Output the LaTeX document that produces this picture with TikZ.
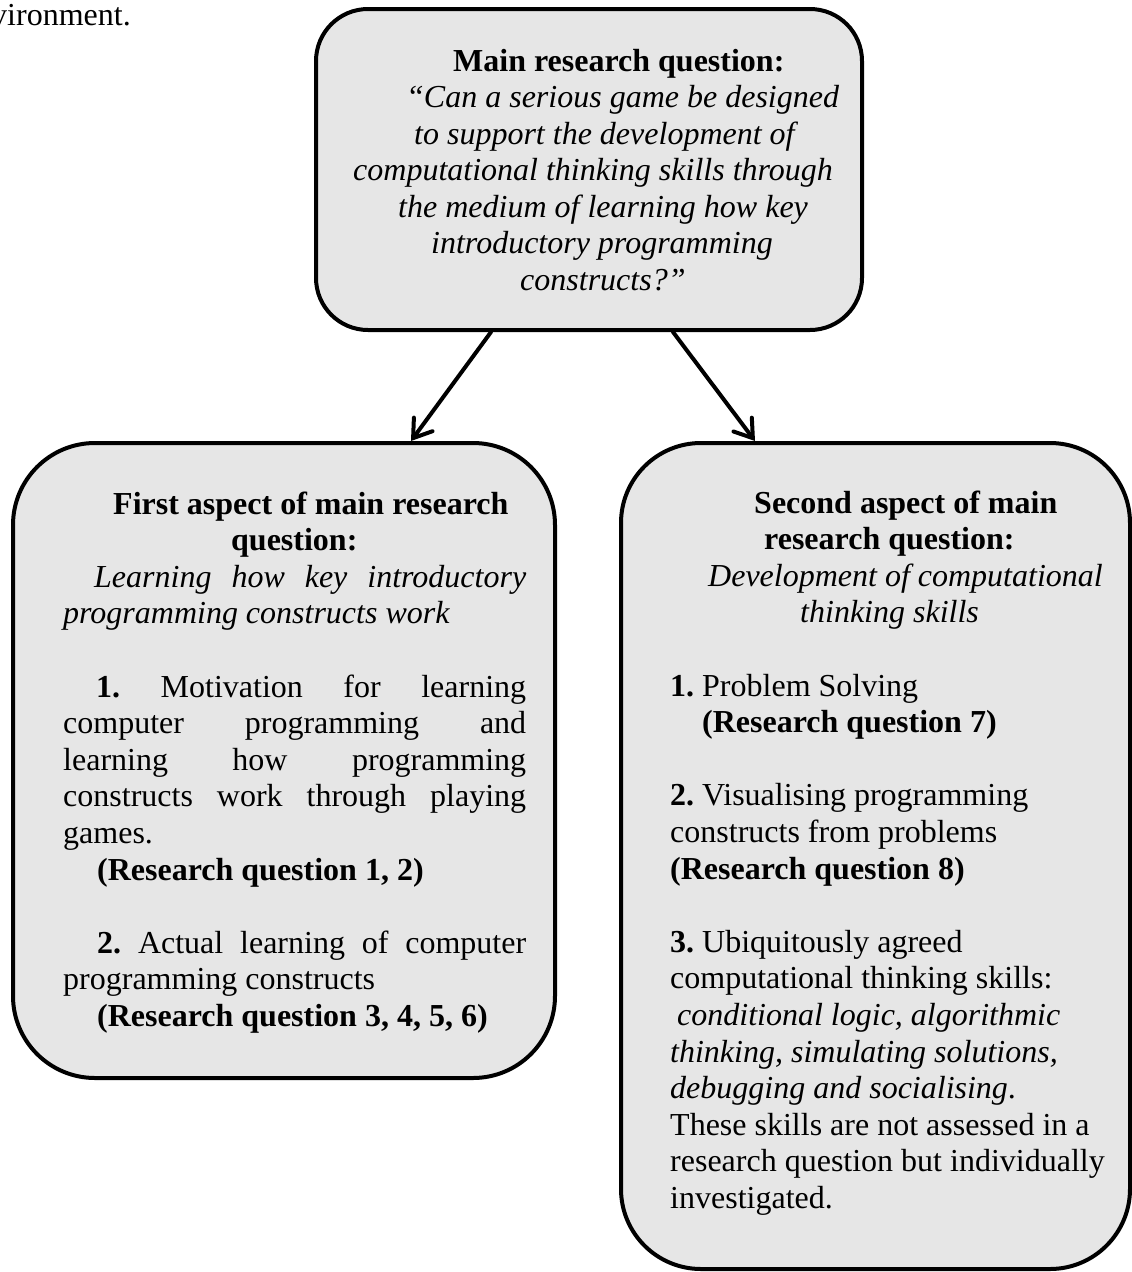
\documentclass[tikz,border=0pt]{standalone}
\usepackage{fontspec}
\setmainfont{Liberation Serif}
\usetikzlibrary{arrows.meta}
\definecolor{boxgray}{RGB}{230,230,230}
\newcommand{\fs}{\fontsize{32}{32}\selectfont\frenchspacing}
\begin{document}
\begin{tikzpicture}[x=1pt,y=-1pt,
  box/.style={draw=black, line width=4pt, fill=boxgray, rectangle, inner sep=0pt},
  arr/.style={line width=4pt, line cap=round, -{Straight Barb[length=17pt,width=23pt,line cap=round]}},
  tl/.style={anchor=base west, inner sep=0pt, font=\fs}]
\useasboundingbox (0,0) rectangle (1132,1272);
\node[tl] (env) at (-9,25) {vironment.};
% boxes
\node[box, rounded corners=52pt, minimum width=546pt, minimum height=321pt] (top) at (589,169.5) {};
\node[box, rounded corners=82pt, minimum width=542pt, minimum height=635pt] (left) at (284,760.5) {};
\node[box, rounded corners=80pt, minimum width=509pt, minimum height=826pt] (right) at (875.5,856) {};
% arrows
\draw[arr] ([xshift=177pt]top.south west) -- ([xshift=400pt]left.north west);
\draw[arr] ([xshift=359pt]top.south west) -- ([xshift=136pt]right.north west);
% top text
\node[tl] (m1) at (453,71) {\textbf{Main research question:}};
\node[tl] (m2) at (406,107.5) {\itshape “Can a serious game be designed};
\node[tl] (m3) at (414,144) {\itshape to support the development of};
\node[tl] (m4) at (353,180.5) {\itshape computational thinking skills through};
\node[tl] (m5) at (398,217) {\itshape the medium of learning how key};
\node[tl] (m6) at (431,253.5) {\itshape introductory programming};
\node[tl] (m7) at (520,290) {\itshape constructs?”};
% left text
\node[tl] (a1) at (113,514) {\textbf{First aspect of main research}};
\node[tl] (a2) at (231,550.6) {\textbf{question:}};
\node[tl] (a3) at (94,587.2) {\makebox[432pt][s]{\itshape Learning how key introductory}};
\node[tl] (a4) at (63,623.8) {\itshape programming constructs work};
\node[tl] (a5) at (96,697) {\makebox[430pt][s]{\textbf{1.} Motivation for learning}};
\node[tl] (a6) at (63,733.6) {\makebox[463pt][s]{computer programming and}};
\node[tl] (a7) at (63,770.2) {\makebox[463pt][s]{learning how programming}};
\node[tl] (a8) at (63,806.8) {\makebox[463pt][s]{constructs work through playing}};
\node[tl] (a9) at (63,843.4) {games.};
\node[tl] (a10) at (97,880) {\textbf{(Research question 1, 2)}};
\node[tl] (a11) at (97,953.2) {\makebox[429pt][s]{\textbf{2.} Actual learning of computer}};
\node[tl] (a12) at (63,989.8) {programming constructs};
\node[tl] (a13) at (97,1026.4) {\textbf{(Research question 3, 4, 5, 6)}};
% right text
\node[tl] (b1) at (754,513) {\textbf{Second aspect of main}};
\node[tl] (b2) at (764,549.6) {\textbf{research question:}};
\node[tl] (b3) at (708,586.2) {\itshape Development of computational};
\node[tl] (b4) at (800,622.8) {\itshape thinking skills};
\node[tl] (b5) at (670,696) {\textbf{1.} Problem Solving};
\node[tl] (b6) at (702,732.6) {\textbf{(Research question 7)}};
\node[tl] (b7) at (670,805.8) {\textbf{2.} Visualising programming};
\node[tl] (b8) at (670,842.4) {constructs from problems};
\node[tl] (b9) at (670,879) {\textbf{(Research question 8)}};
\node[tl] (b10) at (670,952.2) {\textbf{3.} Ubiquitously agreed};
\node[tl] (b11) at (670,988.8) {computational thinking skills:};
\node[tl] (b12) at (677,1025.4) {\itshape conditional logic, algorithmic};
\node[tl] (b13) at (670,1062) {\itshape thinking, simulating solutions,};
\node[tl] (b14) at (670,1098.6) {\textit{debugging and socialising}.};
\node[tl] (b15) at (670,1135.2) {These skills are not assessed in a};
\node[tl] (b16) at (670,1171.8) {research question but individually};
\node[tl] (b17) at (670,1208.4) {investigated.};
\end{tikzpicture}
\end{document}
